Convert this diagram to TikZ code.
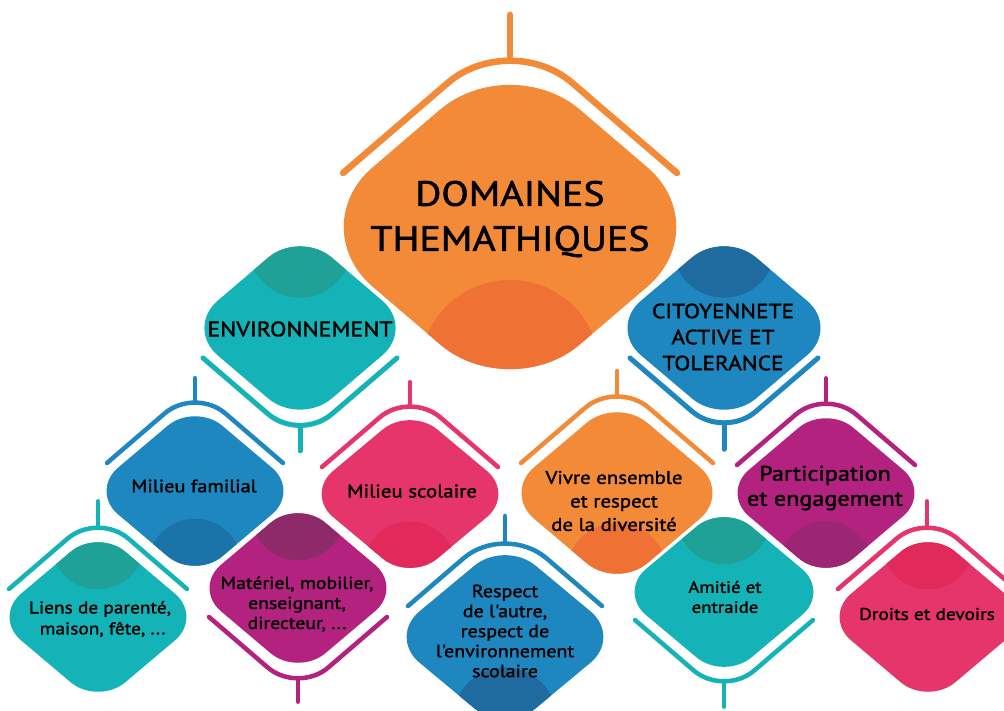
\documentclass[tikz,border=0pt]{standalone}
\usepackage{fontspec}
\setmainfont{PT Sans}[FakeStretch=1.14, FakeBold=1.6, Ligatures=TeXOff]
\definecolor{orA}{HTML}{F28A37}
\definecolor{orD}{HTML}{F07134}
\definecolor{tlA}{HTML}{14B3B7}
\definecolor{tlD}{HTML}{20A197}
\definecolor{blA}{HTML}{1E87BF}
\definecolor{blD}{HTML}{1A74A9}
\definecolor{blE}{HTML}{1F6B9F}
\definecolor{pkA}{HTML}{E6356A}
\definecolor{pkD}{HTML}{E12A5B}
\definecolor{mgA}{HTML}{B3227F}
\definecolor{mgD}{HTML}{9C2673}
\definecolor{mgE}{HTML}{8F2A6A}
\newcommand\rdiam[8]{%
 \pgfmathsetmacro\rdW{#3+0.459*#5}%
 \pgfmathsetmacro\rdH{#4+0.371*#5}%
 \pgfmathsetmacro\rdR{0.63*#4}%
 \pgfmathsetmacro\rdC{#2-(#8)*#4}%
 \begin{scope}
 \clip[rounded corners=#5pt] ({#1-\rdW},#2) -- (#1,{#2-\rdH}) -- ({#1+\rdW},#2) -- (#1,{#2+\rdH}) -- cycle;
 \fill[#6] ({#1-\rdW},{#2-\rdH}) rectangle ({#1+\rdW},{#2+\rdH});
 \fill[#7] (#1,\rdC) circle[radius=\rdR];
 \end{scope}}
\newcommand\brk[9]{%
 \pgfmathsetmacro\bkA{#2-(#5)*(#4+0.86*#3)}%
 \pgfmathsetmacro\bkV{#2-(#5)*(#4+0.86*#3-0.371*#8)}%
 \pgfmathsetmacro\bkS{\bkV-(#5)*#9}%
 \pgfmathsetmacro\bkE{#2-(#5)*#4}%
 \pgfmathsetmacro\bkL{#1-#3}%
 \pgfmathsetmacro\bkR{#1+#3}%
 \draw[#6, line width=#7pt, rounded corners=#8pt] (\bkL,\bkE) -- (#1,\bkA) -- (\bkR,\bkE);
 \draw[#6, line width=#7pt] (#1,\bkV) -- (#1,\bkS);}
\tikzset{lbl/.style={align=center, text=black, inner sep=0pt}}
\begin{document}
\begin{tikzpicture}[x=1pt,y=-1pt,line cap=round]
\useasboundingbox (0,0) rectangle (1004,710);
\clip (0,0) rectangle (1004,710);
\fill[white] (0,0) rectangle (1004,710);
% diamonds
\rdiam{510}{227}{165}{143}{92}{orA}{orD}{-1}
\rdiam{300}{328}{95}{82}{42}{tlA}{tlD}{1}
\rdiam{724}{328}{96}{82}{42}{blA}{blE}{1}
\rdiam{195}{491}{88}{75}{36}{blA}{blD}{-1}
\rdiam{410}{494}{88}{74}{36}{pkA}{pkD}{-1}
\rdiam{617}{493}{95}{81}{40}{orA}{orD}{-1}
\rdiam{826}{493}{88}{75}{36}{mgA}{mgD}{-1}
\rdiam{98}{617}{88}{75}{36}{tlA}{tlD}{1}
\rdiam{298}{588}{88}{75}{36}{mgA}{mgE}{1}
\rdiam{505}{637}{98}{82}{40}{blA}{blE}{-1}
\rdiam{724}{592}{89}{75}{36}{tlA}{tlD}{1}
\rdiam{928}{617}{88}{75}{36}{pkA}{pkD}{1}
% brackets
\brk{510}{227}{167}{54}{1}{orA}{6.5}{82}{45}
\brk{300}{328}{97}{30}{-1}{tlA}{5}{42}{25}
\brk{724}{328}{94}{30}{-1}{blA}{5}{42}{26}
\brk{195}{491}{88}{28}{1}{blA}{4.5}{40}{24}
\brk{410}{494}{88}{27}{1}{pkA}{4.5}{40}{24}
\brk{617}{493}{96}{30}{1}{orA}{4.5}{42}{25}
\brk{826}{493}{89}{28}{1}{mgA}{4.5}{40}{25}
\brk{98}{617}{89}{28}{1}{tlA}{4.5}{40}{26}
\brk{298}{588}{89}{29}{-1}{mgA}{4.5}{40}{23}
\brk{505}{637}{97}{31}{1}{blA}{4.5}{55}{27}
\brk{724}{592}{89}{28}{-1}{tlA}{4.5}{40}{25}
\brk{927}{617}{89}{28}{1}{pkA}{4.5}{40}{26}
% labels
\node[lbl, font=\fontsize{35}{45}\selectfont] (dom) at (510,219) {DOMAINES\\THEMATHIQUES};
\node[lbl, font=\fontsize{21}{26}\selectfont] (env) at (300,329) {ENVIRONNEMENT};
\node[lbl, font=\fontsize{20.5}{26}\selectfont] (cit) at (723,337) {CITOYENNETE\\ACTIVE ET\\TOLERANCE};
\node[lbl, font=\fontsize{17.8}{22}\selectfont] (fam) at (194,486) {Milieu familial};
\node[lbl, font=\fontsize{18.3}{22}\selectfont] (sco) at (412,491) {Milieu scolaire};
\node[lbl, font=\fontsize{18.3}{23.5}\selectfont] (viv) at (614,501) {Vivre ensemble\\et respect\\de la diversité};
\node[lbl, font=\fontsize{21.2}{25}\selectfont] (par) at (825,488) {Participation\\et engagement};
\node[lbl, font=\fontsize{17}{21}\selectfont] (lie) at (100,619) {Liens de parenté,\\\ maison, fête, ...};
\node[lbl, font=\fontsize{17.3}{20}\selectfont] (mat) at (297,604) {Matériel, mobilier,\\enseignant,\\directeur, ...};
\node[lbl, font=\fontsize{17.6}{20}\selectfont] (res) at (505,631) {Respect\\de l'autre,\\respect de\\l'environnement\\scolaire};
\node[lbl, font=\fontsize{16.5}{20}\selectfont] (ami) at (725,597) {Amitié et\\entraide};
\node[lbl, font=\fontsize{17}{22}\selectfont] (dro) at (927,614) {Droits et devoirs};
\end{tikzpicture}
\end{document}
